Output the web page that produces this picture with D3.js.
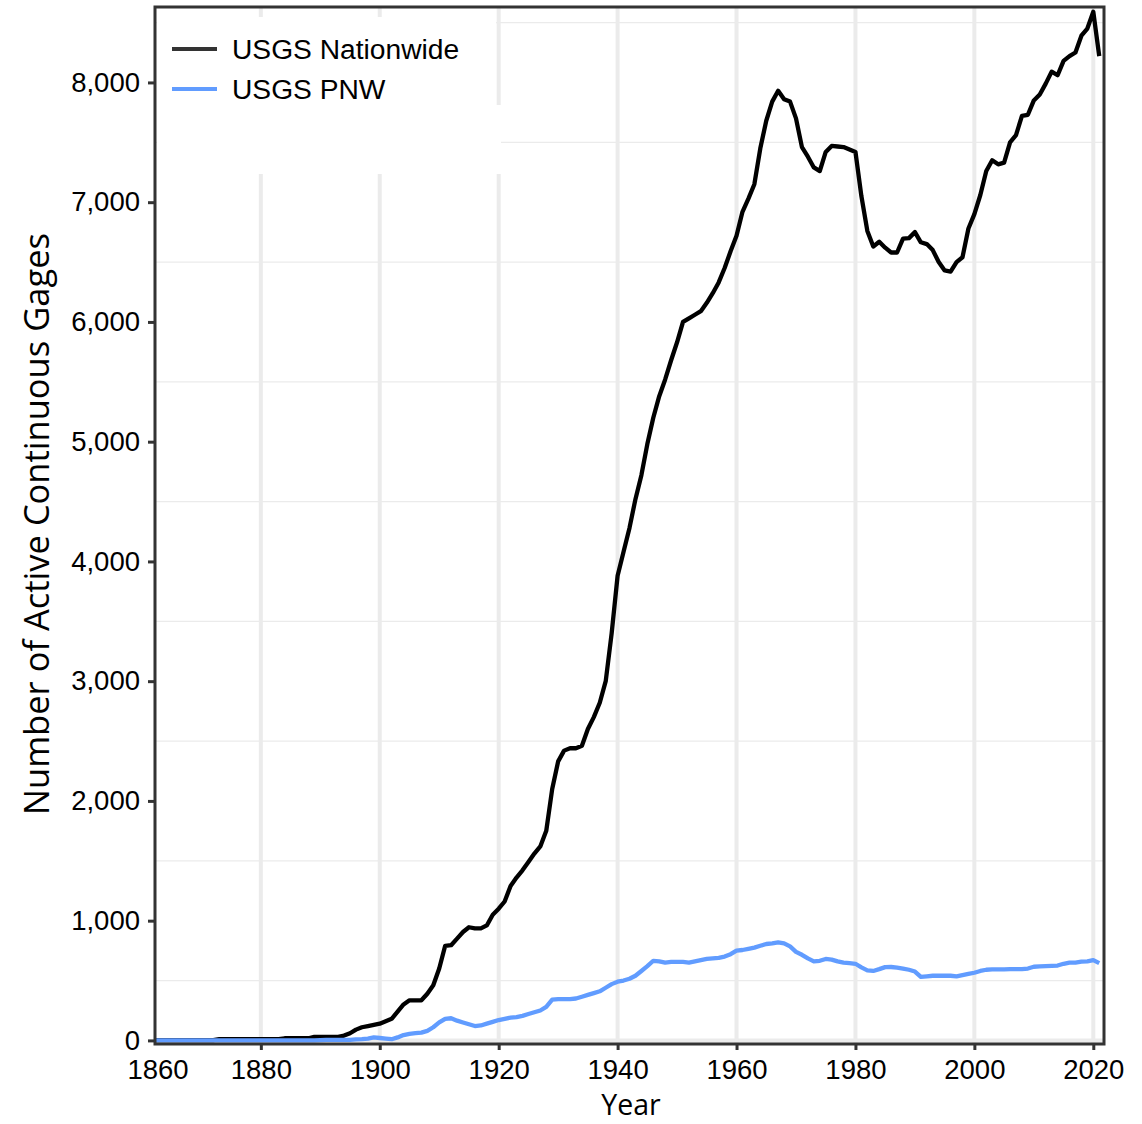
<!DOCTYPE html>
<html>
<head>
<meta charset="utf-8">
<script src="https://cdn.jsdelivr.net/npm/d3@7"></script>
<style>
  html, body { margin: 0; padding: 0; background: #fff; }
  svg { display: block; }
</style>
</head>
<body>
<svg id="chart" width="1142" height="1124"></svg>
<script>
// Active continuous stream gages per year
const years = d3.range(1862, 2022);

const nationwide = [
  2, 3, 3, 3, 3, 3, 3, 3, 3, 3, 3,                 // 1862-1872
  10, 10, 10, 10, 10, 10, 10, 10, 10, 10, 10,       // 1873-1883
  18, 18, 18, 18, 18,                               // 1884-1888
  30, 30, 30, 30, 30,                               // 1889-1893
  40, 60, 90, 110, 120, 130,                        // 1894-1899
  140, 160, 180, 240, 300, 335, 335, 335, 390, 460, // 1900-1909
  600, 790, 795, 850, 905, 945, 935, 935, 960, 1050, // 1910-1919
  1100, 1160, 1290, 1360, 1420, 1490, 1560, 1620, 1750, 2100, // 1920-1929
  2330, 2420, 2440, 2440, 2460, 2600, 2700, 2820, 3000, 3400, // 1930-1939
  3880, 4080, 4280, 4520, 4720, 4980, 5200, 5380, 5520, 5680, // 1940-1949
  5830, 6000, 6030, 6060, 6090, 6160, 6240, 6330, 6450, 6590, // 1950-1959
  6720, 6920, 7030, 7150, 7450, 7680, 7840, 7930, 7860, 7840, // 1960-1969
  7700, 7460, 7380, 7290, 7260, 7420, 7470, 7465, 7460, 7440, // 1970-1979
  7420, 7050, 6760, 6630, 6670, 6620, 6580, 6580, 6695, 6700, // 1980-1989
  6750, 6665, 6650, 6600, 6500, 6430, 6420, 6500, 6540, 6780, // 1990-1999
  6900, 7060, 7260, 7350, 7316, 7330, 7500, 7560, 7720, 7730, // 2000-2009
  7850, 7900, 7990, 8090, 8060, 8180, 8220, 8250, 8390, 8450, // 2010-2019
  8590, 8220                                                  // 2020-2021
];

const pnw = [
  0, 0, 0, 0, 0, 0, 0, 0, 0, 0, 0, 0, 0, 0,          // 1862-1875
  0, 0, 0, 0, 0, 0, 0, 0, 0, 0, 0, 0, 0, 0,          // 1876-1889
  2, 5, 5, 5, 5, 5, 8, 10, 15, 25,                   // 1890-1899
  20, 15, 10, 25, 45, 55, 60, 65, 80, 110,           // 1900-1909
  150, 180, 185, 165, 150, 135, 120, 125, 140, 155,  // 1910-1919
  170, 180, 190, 195, 205, 220, 235, 250, 280, 340,  // 1920-1929
  345, 345, 345, 350, 365, 380, 395, 410, 440, 470,  // 1930-1939
  490, 500, 515, 540, 580, 620, 665, 660, 650, 655,  // 1940-1949
  655, 655, 650, 660, 670, 680, 685, 690, 700, 720,  // 1950-1959
  750, 755, 765, 775, 790, 805, 810, 818, 810, 785,  // 1960-1969
  740, 715, 685, 660, 665, 680, 675, 660, 650, 645,  // 1970-1979
  640, 610, 585, 580, 595, 612, 613, 608, 600, 590,  // 1980-1989
  575, 530, 535, 540, 540, 540, 540, 535, 545, 555,  // 1990-1999
  565, 580, 590, 593, 593, 593, 595, 595, 595, 600,  // 2000-2009
  615, 618, 620, 622, 625, 640, 650, 650, 658, 660,  // 2010-2019
  670, 645                                           // 2020-2021
];

const seriesNames = ["USGS Nationwide", "USGS PNW"];
const seriesColors = ["#000000", "#619CFF"];

const xTickValues = [1860, 1880, 1900, 1920, 1940, 1960, 1980, 2000, 2020];
const yTickValues = [0, 1000, 2000, 3000, 4000, 5000, 6000, 7000, 8000];
const yMinorGrid = [500, 1500, 2500, 3500, 4500, 5500, 6500, 7500, 8500];

const xTitle = "Year";
const yTitle = "Number of Active Continuous Gages";

// Panel geometry
const panel = { left: 155, right: 1104, top: 7, bottom: 1044 };

const svg = d3.select("#chart");

const x = d3.scaleLinear().domain([1862.2, 2021.8]).range([panel.left, panel.right]);
const y = d3.scaleLinear().domain([-30, 8630]).range([panel.bottom, panel.top]);

const fontTicks = "'Liberation Sans', Arial, Helvetica, sans-serif";
const fontTitles = "'Open Sans', 'Noto Sans', sans-serif";

// Grid
const grid = svg.append("g");
grid.selectAll("line.hminor").data(yMinorGrid).join("line")
  .attr("x1", panel.left).attr("x2", panel.right)
  .attr("y1", d => y(d)).attr("y2", d => y(d))
  .attr("stroke", "#ebebeb").attr("stroke-width", 1.3);
grid.append("line")
  .attr("x1", panel.left).attr("x2", panel.right)
  .attr("y1", y(0)).attr("y2", y(0))
  .attr("stroke", "#ebebeb").attr("stroke-width", 4);
grid.selectAll("line.vmajor").data(xTickValues.filter(d => x(d) > panel.left)).join("line")
  .attr("x1", d => x(d)).attr("x2", d => x(d))
  .attr("y1", panel.top).attr("y2", panel.bottom)
  .attr("stroke", "#ebebeb").attr("stroke-width", 4);

// Series lines
svg.append("clipPath").attr("id", "panel-clip")
  .append("rect").attr("x", panel.left).attr("y", panel.top)
  .attr("width", panel.right - panel.left).attr("height", panel.bottom - panel.top);

const line = d3.line().x(d => x(d[0])).y(d => y(d[1]));
const plot = svg.append("g").attr("clip-path", "url(#panel-clip)");
[nationwide, pnw].forEach((vals, i) => {
  plot.append("path")
    .datum(years.map((yr, j) => [yr, vals[j]]))
    .attr("d", line)
    .attr("fill", "none")
    .attr("stroke", seriesColors[i])
    .attr("stroke-width", 4.3)
    .attr("stroke-linejoin", "round")
    .attr("stroke-linecap", "butt");
});

// Legend background (two overlapping panels of white)
const legend = svg.append("g");
legend.append("rect")
  .attr("x", panel.left + 2).attr("y", 17).attr("width", 339).attr("height", 88)
  .attr("fill", "#fff");
legend.append("rect")
  .attr("x", panel.left + 2).attr("y", 105).attr("width", 344).attr("height", 69)
  .attr("fill", "#fff");
seriesNames.forEach((name, i) => {
  const ly = 49 + i * 40;
  legend.append("line")
    .attr("x1", 172).attr("x2", 217).attr("y1", ly).attr("y2", ly)
    .attr("stroke", i === 0 ? "#333" : seriesColors[i]).attr("stroke-width", 4);
  legend.append("text")
    .attr("x", 232).attr("y", ly + 9.5)
    .attr("font-family", fontTicks).attr("font-size", 28.2)
    .attr("fill", "#000").text(name);
});

// Axes
const xAxis = svg.append("g")
  .attr("transform", `translate(0,${panel.bottom})`)
  .call(d3.axisBottom(x).tickValues(xTickValues).tickFormat(d3.format("d"))
    .tickSize(6).tickPadding(9).tickSizeOuter(0));
// the first label sits at the panel edge
xAxis.selectAll(".tick").filter(d => x(d) < panel.left)
  .attr("transform", `translate(${panel.left + 3},0)`)
  .select("line").remove();

const yAxis = svg.append("g")
  .attr("transform", `translate(${panel.left},0)`)
  .call(d3.axisLeft(y).tickValues(yTickValues).tickFormat(d3.format(","))
    .tickSize(7).tickPadding(8).tickSizeOuter(0));

[xAxis, yAxis].forEach(g => {
  g.select(".domain").remove();
  g.selectAll(".tick line").attr("stroke", "#333").attr("stroke-width", 3);
  g.selectAll(".tick text").attr("font-family", fontTicks)
    .attr("font-size", 27.5).attr("fill", "#000");
});

// Panel frame
svg.append("rect")
  .attr("x", panel.left).attr("y", panel.top)
  .attr("width", panel.right - panel.left).attr("height", panel.bottom - panel.top)
  .attr("fill", "none").attr("stroke", "#333").attr("stroke-width", 3);

// Titles
svg.append("text")
  .attr("x", 631).attr("y", 1115)
  .attr("text-anchor", "middle")
  .attr("font-family", fontTitles).attr("font-size", 28.5)
  .attr("fill", "#000").text(xTitle);

svg.append("text")
  .attr("transform", "translate(49,524) rotate(-90)")
  .attr("text-anchor", "middle")
  .attr("font-family", fontTitles).attr("font-size", 34.5)
  .attr("fill", "#000").text(yTitle);
</script>
</body>
</html>
